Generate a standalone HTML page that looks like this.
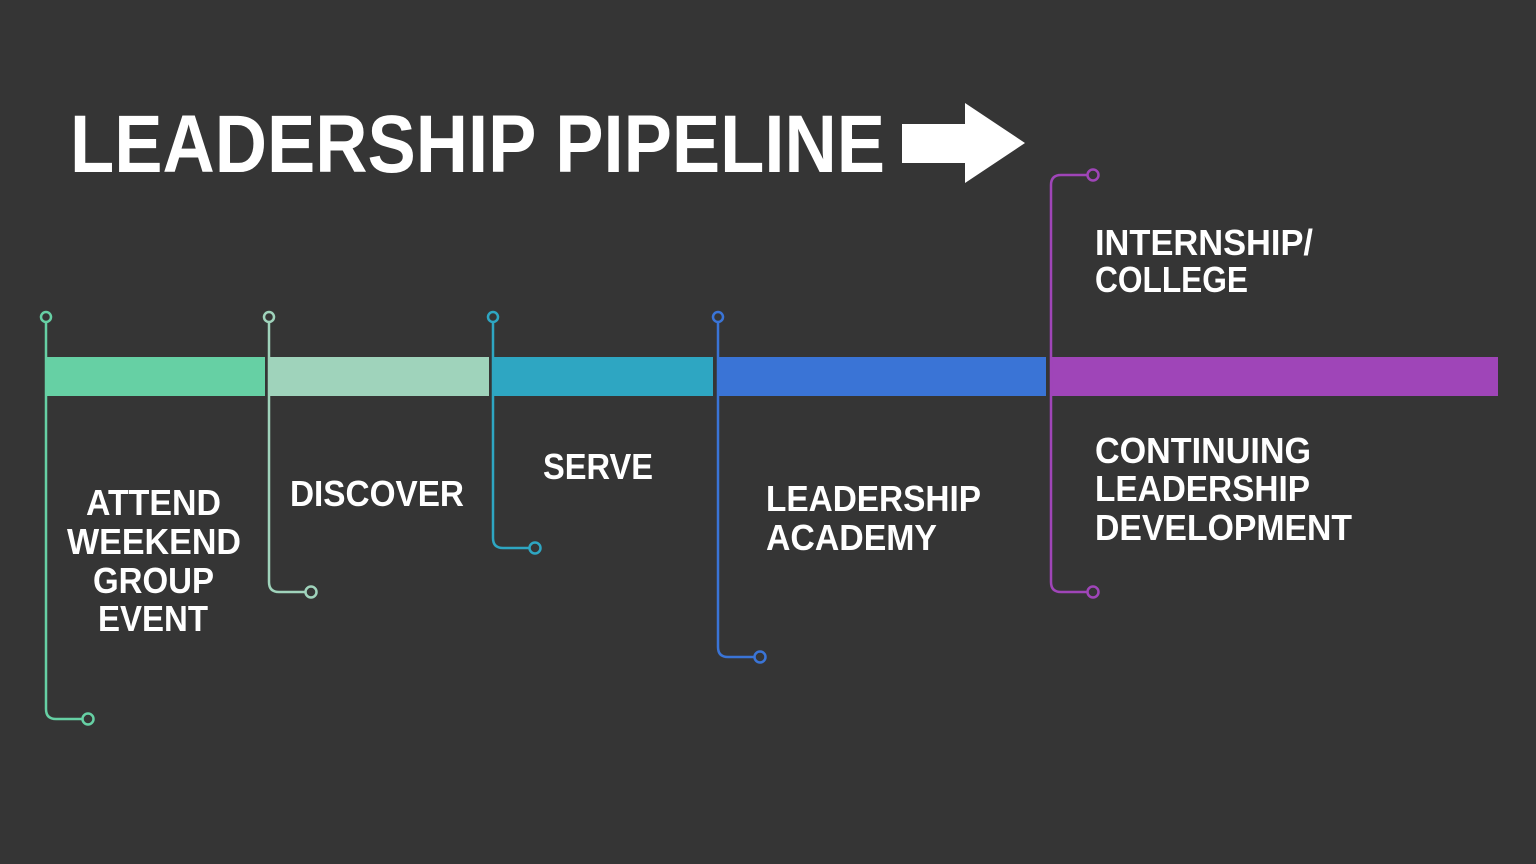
<!DOCTYPE html>
<html><head><meta charset="utf-8"><style>html,body{margin:0;padding:0;background:#353535;}svg{display:block}</style></head>
<body>
<svg width="1536" height="864" viewBox="0 0 1536 864" xmlns="http://www.w3.org/2000/svg">
<rect width="1536" height="864" fill="#353535"/>
<g font-family="Liberation Sans, sans-serif" font-weight="bold" fill="#fff">
<text x="70" y="172" font-size="82" textLength="815" lengthAdjust="spacingAndGlyphs">LEADERSHIP PIPELINE</text>
</g>
<polygon points="902,124 965,124 965,103 1025,143 965,183 965,163 902,163" fill="#fff"/>
<!-- bars -->
<rect x="46" y="357" width="219" height="39" fill="#66d0a4"/>
<rect x="268" y="357" width="221" height="39" fill="#9fd3bb"/>
<rect x="492" y="357" width="221" height="39" fill="#2ea6c2"/>
<rect x="717" y="357" width="329" height="39" fill="#3a74d6"/>
<rect x="1050" y="357" width="448" height="39" fill="#9f45b8"/>
<g fill="none" stroke-width="2.5">
<g stroke="#66d0a4"><circle cx="46" cy="317" r="5"/><path d="M46 322 V709 Q46 719 56 719 H82"/><circle cx="88" cy="719" r="5.5"/></g>
<g stroke="#9fd3bb"><circle cx="269" cy="317" r="5"/><path d="M269 322 V582 Q269 592 279 592 H305"/><circle cx="311" cy="592" r="5.5"/></g>
<g stroke="#2ea6c2"><circle cx="493" cy="317" r="5"/><path d="M493 322 V538 Q493 548 503 548 H529"/><circle cx="535" cy="548" r="5.5"/></g>
<g stroke="#3a74d6"><circle cx="718" cy="317" r="5"/><path d="M718 322 V647 Q718 657 728 657 H754"/><circle cx="760" cy="657" r="5.5"/></g>
<g stroke="#9f45b8"><circle cx="1093" cy="175" r="5.5"/><path d="M1087 175 H1061 Q1051 175 1051 185 V582 Q1051 592 1061 592 H1087"/><circle cx="1093" cy="592" r="5.5"/></g>
</g>
<g font-family="Liberation Sans, sans-serif" font-weight="bold" fill="#fff" font-size="36" lengthAdjust="spacingAndGlyphs">
<text x="86" y="515" textLength="135" lengthAdjust="spacingAndGlyphs">ATTEND</text>
<text x="67" y="554" textLength="174" lengthAdjust="spacingAndGlyphs">WEEKEND</text>
<text x="93" y="593" textLength="121" lengthAdjust="spacingAndGlyphs">GROUP</text>
<text x="98" y="631" textLength="110" lengthAdjust="spacingAndGlyphs">EVENT</text>
<text x="290" y="506" textLength="174" lengthAdjust="spacingAndGlyphs">DISCOVER</text>
<text x="543" y="479" textLength="110" lengthAdjust="spacingAndGlyphs">SERVE</text>
<text x="766" y="511" textLength="215" lengthAdjust="spacingAndGlyphs">LEADERSHIP</text>
<text x="766" y="550" textLength="171" lengthAdjust="spacingAndGlyphs">ACADEMY</text>
<text x="1095" y="255" textLength="218" lengthAdjust="spacingAndGlyphs">INTERNSHIP/</text>
<text x="1095" y="292" textLength="153" lengthAdjust="spacingAndGlyphs">COLLEGE</text>
<text x="1095" y="463" textLength="216" lengthAdjust="spacingAndGlyphs">CONTINUING</text>
<text x="1095" y="501" textLength="215" lengthAdjust="spacingAndGlyphs">LEADERSHIP</text>
<text x="1095" y="540" textLength="257" lengthAdjust="spacingAndGlyphs">DEVELOPMENT</text>
</g>
</svg>
</body></html>
